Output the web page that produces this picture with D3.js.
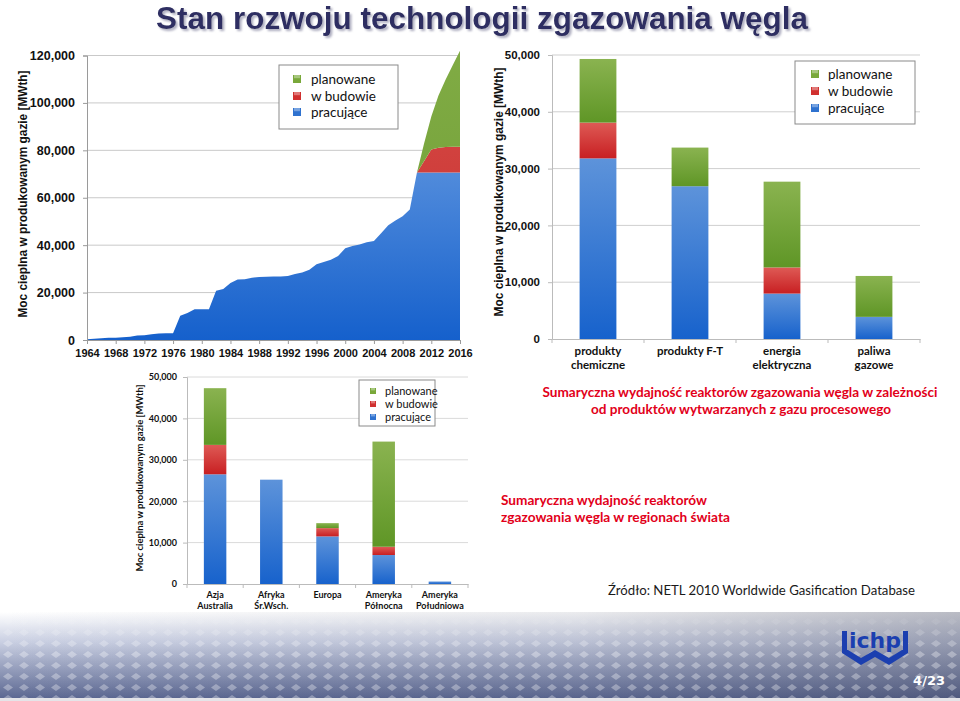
<!DOCTYPE html>
<html><head><meta charset="utf-8">
<script src="https://cdn.jsdelivr.net/npm/d3@7"></script>
<style>body{margin:0;background:#fff}svg{display:block}</style>
</head><body><svg id="c" width="960" height="701"></svg>
<script>
// ---------- DATA ----------
const seriesNames = ["pracujące", "w budowie", "planowane"];
const legendOrder = ["planowane", "w budowie", "pracujące"];

// Chart 1: cumulative capacity by year
const years = [1964,1965,1966,1967,1968,1969,1970,1971,1972,1973,1974,1975,1976,1977,1978,1979,1980,1981,1982,1983,1984,1985,1986,1987,1988,1989,1990,1991,1992,1993,1994,1995,1996,1997,1998,1999,2000,2001,2002,2003,2004,2005,2006,2007,2008,2009,2010,2011,2012,2013,2014,2015,2016];
const operatingByYear = [300,500,700,900,1000,1200,1400,1900,2000,2400,2700,2800,2800,10200,11400,13000,13000,13000,20800,21500,24000,25500,25600,26300,26600,26700,26800,26800,27000,27800,28500,29600,32000,32900,33900,35400,38700,39700,40300,41200,41800,45000,48400,50400,52200,55000,70700,70700,70700,70700,70700,70700,70700];
const constructionByYear = [0,0,0,0,0,0,0,0,0,0,0,0,0,0,0,0,0,0,0,0,0,0,0,0,0,0,0,0,0,0,0,0,0,0,0,0,0,0,0,0,0,0,0,0,0,0,0,4800,9600,10400,10700,10800,10800];
const plannedByYear = [0,0,0,0,0,0,0,0,0,0,0,0,0,0,0,0,0,0,0,0,0,0,0,0,0,0,0,0,0,0,0,0,0,0,0,0,0,0,0,0,0,0,0,0,0,0,0,7500,14000,22000,28500,34500,40500];
const yearTicks = [1964,1968,1972,1976,1980,1984,1988,1992,1996,2000,2004,2008,2012,2016];
const ticks1 = [0,20000,40000,60000,80000,100000,120000];

// Chart 2: by product
const products = [["produkty","chemiczne"],["produkty F-T"],["energia","elektryczna"],["paliwa","gazowe"]];
const productOperating = [31800, 26900, 8000, 3900];
const productConstruction = [6300, 0, 4600, 0];
const productPlanned = [11200, 6800, 15100, 7200];
const ticks2 = [0,10000,20000,30000,40000,50000];

// Chart 3: by region
const regions = [["Azja","Australia"],["Afryka","Śr.Wsch."],["Europa"],["Ameryka","Północna"],["Ameryka","Południowa"]];
const regionOperating = [26500, 25200, 11500, 7000, 600];
const regionConstruction = [7100, 0, 2000, 2000, 0];
const regionPlanned = [13700, 0, 1200, 25400, 0];
const ticks3 = [0,10000,20000,30000,40000,50000];

const yTitle = "Moc cieplna  w produkowanym gazie [MWth]";
const pageTitle = "Stan rozwoju technologii zgazowania węgla";
const caption1 = ["Sumaryczna wydajność reaktorów zgazowania węgla w zależności","od produktów wytwarzanych z gazu procesowego"];
const caption2 = ["Sumaryczna wydajność reaktorów","zgazowania węgla w regionach świata"];
const sourceText = "Źródło: NETL 2010 Worldwide Gasification Database";
const logoText = "ichp";
const pageNo = "4/23";

// ---------- SETUP ----------
const svg = d3.select("#c");
const defs = svg.append("defs");
const fmt = d3.format(",");
const ARIAL = "'Liberation Sans', Arial, sans-serif";
const CAL = "Lato, 'Open Sans', sans-serif";

function vgrad(id, stops, user, y1, y2) {
  const g = defs.append("linearGradient").attr("id", id).attr("x1",0).attr("x2",0).attr("y1",user?y1:0).attr("y2",user?y2:1);
  if (user) g.attr("gradientUnits","userSpaceOnUse");
  stops.forEach(s => g.append("stop").attr("offset", s[0]).attr("stop-color", s[1]));
}
vgrad("gBlue", [[0,"#5d93da"],[1,"#1762cc"]]);
vgrad("gRed", [[0,"#de5a55"],[1,"#c81f22"]]);
vgrad("gGreen", [[0,"#8ab350"],[1,"#5f9626"]]);
vgrad("aBlue", [[0,"#7aa9e6"],[1,"#1560cc"]], true, 55, 340);
vgrad("aRed", [[0,"#d64a45"],[1,"#c73030"]], true, 55, 340);
vgrad("aGreen", [[0,"#80ab44"],[1,"#6f9e35"]], true, 55, 340);
const barFill = {"pracujące":"url(#gBlue)","w budowie":"url(#gRed)","planowane":"url(#gGreen)"};
const areaFill = {"pracujące":"url(#aBlue)","w budowie":"url(#aRed)","planowane":"url(#aGreen)"};
const legendCol = {"planowane":"#79a83a","w budowie":"#d0302f","pracujące":"#2f72cf"};

// title shadow filter
const f = defs.append("filter").attr("id","sh").attr("x","-5%").attr("y","-20%").attr("width","110%").attr("height","150%");
f.append("feDropShadow").attr("dx",2).attr("dy",2).attr("stdDeviation",0.8).attr("flood-color","#9a9ab0").attr("flood-opacity",0.8);

// bottom band
vgrad("band", [[0,"#ffffff"],[0.35,"#c9cfe2"],[1,"#5c6892"]]);
const hb = defs.append("linearGradient").attr("id","bandH").attr("x1",0).attr("x2",1).attr("y1",0).attr("y2",0);
hb.append("stop").attr("offset",0).attr("stop-color","#3a3f58").attr("stop-opacity",0);
hb.append("stop").attr("offset",0.6).attr("stop-color","#3a3f58").attr("stop-opacity",0.1);
hb.append("stop").attr("offset",1).attr("stop-color","#3a3f58").attr("stop-opacity",0.35);
const pat = defs.append("pattern").attr("id","dia").attr("patternUnits","userSpaceOnUse").attr("width",16).attr("height",11);
pat.append("path").attr("d","M3,5.5 L8,2 L13,5.5 L8,9 Z").attr("fill","#ffffff").attr("opacity",0.32);
const fadeMask = defs.append("linearGradient").attr("id","fm").attr("x1",0).attr("x2",0).attr("y1",0).attr("y2",1);
fadeMask.append("stop").attr("offset",0).attr("stop-color","#000");
fadeMask.append("stop").attr("offset",0.45).attr("stop-color","#fff");
fadeMask.append("stop").attr("offset",1).attr("stop-color","#fff");
defs.append("mask").attr("id","mk").append("rect").attr("x",0).attr("y",612).attr("width",960).attr("height",86).attr("fill","url(#fm)");

svg.append("rect").attr("width",960).attr("height",701).attr("fill","#fff");
svg.append("rect").attr("x",0).attr("y",612).attr("width",960).attr("height",86).attr("fill","url(#band)");
svg.append("rect").attr("x",0).attr("y",612).attr("width",960).attr("height",86).attr("fill","url(#bandH)");
svg.append("rect").attr("x",0).attr("y",612).attr("width",960).attr("height",86).attr("fill","url(#dia)").attr("mask","url(#mk)");
svg.append("rect").attr("x",0).attr("y",698).attr("width",960).attr("height",3).attr("fill","#e4e4e8");

// title
svg.append("text").attr("x",482).attr("y",29).attr("text-anchor","middle")
  .attr("font-family","'Liberation Sans Narrow', 'Liberation Sans', Arial, sans-serif").attr("font-weight","bold")
  .attr("font-size",31).attr("fill","#2e2f62").attr("filter","url(#sh)")
  .attr("textLength",652).attr("lengthAdjust","spacingAndGlyphs").text(pageTitle);

function rotTitle(x, cy, len, size, weight, family) {
  svg.append("text").attr("transform",`translate(${x},${cy}) rotate(-90)`).attr("text-anchor","middle")
    .attr("font-family",family).attr("font-weight",weight).attr("font-size",size).attr("fill","#111")
    .attr("textLength",len).attr("lengthAdjust","spacingAndGlyphs").attr("dy","0.35em").text(yTitle);
}

function legend(x, y, w, h, mx, tx, rows, ms, fs, weight) {
  const g = svg.append("g");
  g.append("rect").attr("x",x).attr("y",y).attr("width",w).attr("height",h).attr("fill","#fff").attr("stroke","#8a8a8a").attr("stroke-width",1);
  legendOrder.forEach((n,i) => {
    g.append("rect").attr("x",mx).attr("y",rows[i]-ms/2).attr("width",ms).attr("height",ms).attr("fill",legendCol[n]);
    g.append("rect").attr("x",mx+1).attr("y",rows[i]-ms/2).attr("width",ms-2).attr("height",ms*0.4).attr("fill","#fff").attr("opacity",0.35);
    g.append("text").attr("x",tx).attr("y",rows[i]).attr("dy","0.35em").attr("font-family",CAL).attr("font-weight",weight)
      .attr("font-size",fs).attr("fill","#111").text(n);
  });
}

// ---------- CHART 1 ----------
{
  const x = d3.scaleLinear().domain([1964,2016]).range([87,460]);
  const y = d3.scaleLinear().domain([0,120000]).range([340,55.5]);
  const g = svg.append("g");
  g.selectAll("line.grid").data(ticks1.slice(1)).join("line").attr("x1",87).attr("x2",460)
    .attr("y1",d=>y(d)).attr("y2",d=>y(d)).attr("stroke","#c9c9c9").attr("stroke-width",1);
  const rows = years.map((yr,i)=>({year:yr,"pracujące":operatingByYear[i],"w budowie":constructionByYear[i],"planowane":plannedByYear[i]}));
  const stack = d3.stack().keys(seriesNames)(rows);
  const area = d3.area().x(d=>x(d.data.year)).y0(d=>y(d[0])).y1(d=>y(d[1]));
  g.selectAll("path.a").data(stack).join("path").attr("d",area).attr("fill",d=>areaFill[d.key]);
  const ya = g.append("g").attr("transform","translate(87,0)").call(d3.axisLeft(y).tickValues(ticks1).tickFormat(fmt).tickSize(4).tickPadding(8));
  ya.select(".domain").attr("stroke","#9a9a9a");
  ya.selectAll(".tick line").attr("stroke","#9a9a9a");
  ya.selectAll("text").attr("font-family",ARIAL).attr("font-weight","bold").attr("font-size",12.5).attr("fill","#111");
  const xa = g.append("g").attr("transform","translate(0,340)").call(d3.axisBottom(x).tickValues(yearTicks).tickFormat(d3.format("d")).tickSize(4).tickPadding(5));
  xa.select(".domain").attr("stroke","#9a9a9a");
  xa.selectAll(".tick line").attr("stroke","#9a9a9a");
  xa.selectAll("text").attr("font-family",ARIAL).attr("font-weight","bold").attr("font-size",11).attr("fill","#111");
  rotTitle(22, 194, 247, 13.5, "bold", ARIAL);
  legend(279, 65, 119, 64, 293, 311, [79,96,112], 8, 13.5, "normal");
}

// ---------- stacked bar helper ----------
function barChart(cats, op, co, pl, ticks, x0, x1, yb, yt, lblSize, lblX, gridCol, labelY, labelGap, catSize) {
  const x = d3.scaleBand().domain(cats.map(c=>c.join(" "))).range([x0,x1]).paddingInner(0.6).paddingOuter(0.3);
  const y = d3.scaleLinear().domain([0, ticks[ticks.length-1]]).range([yb,yt]);
  const g = svg.append("g");
  g.selectAll("line.grid").data(ticks.slice(1)).join("line").attr("x1",x0).attr("x2",x1)
    .attr("y1",d=>y(d)).attr("y2",d=>y(d)).attr("stroke",gridCol).attr("stroke-width",1);
  const rows = cats.map((c,i)=>({cat:c.join(" "),"pracujące":op[i],"w budowie":co[i],"planowane":pl[i]}));
  const stack = d3.stack().keys(seriesNames)(rows);
  g.selectAll("g.s").data(stack).join("g").attr("fill",d=>barFill[d.key])
    .selectAll("rect").data(d=>d.filter(v=>v[1]-v[0]>0)).join("rect")
    .attr("x",d=>x(d.data.cat)).attr("width",x.bandwidth())
    .attr("y",d=>y(d[1])).attr("height",d=>y(d[0])-y(d[1]));
  const ya = g.append("g").attr("transform",`translate(${x0},0)`).call(d3.axisLeft(y).tickValues(ticks).tickFormat(fmt).tickSize(4).tickPadding(lblX));
  ya.select(".domain").attr("stroke","#bbb");
  ya.selectAll(".tick line").attr("stroke","#bbb");
  ya.selectAll("text").attr("font-family", lblSize>10?ARIAL:CAL).attr("font-weight","bold").attr("font-size",lblSize).attr("fill","#111");
  const xa = g.append("g").attr("transform",`translate(0,${yb})`).call(d3.axisBottom(x).tickSize(0).tickFormat(""));
  xa.select(".domain").attr("stroke","#bbb");
  const bounds = d3.range(cats.length+1).map(i=> x0 + (x1-x0)*i/cats.length);
  g.selectAll("line.bt").data(bounds).join("line").attr("x1",d=>d).attr("x2",d=>d).attr("y1",yb).attr("y2",yb+4).attr("stroke","#bbb");
  cats.forEach(c => {
    c.forEach((line,j)=> g.append("text").attr("text-anchor","middle").attr("font-family",CAL).attr("font-weight","bold")
      .attr("font-size",catSize).attr("fill","#111")
      .attr("x", x(c.join(" ")) + x.bandwidth()/2).attr("y", labelY + j*labelGap).text(line));
  });
}

// ---------- CHART 2 ----------
barChart(products, productOperating, productConstruction, productPlanned, ticks2, 552, 920, 339, 55, 11.5, 8, "#cfcfcf", 355, 14, 11.5);
rotTitle(498, 192, 249, 13.5, "bold", ARIAL);
legend(795, 61, 120, 63, 811, 828, [74,91,108], 8, 13.5, "normal");

// ---------- CHART 3 ----------
barChart(regions, regionOperating, regionConstruction, regionPlanned, ticks3, 187, 468, 584, 377, 9, 6, "#dadada", 598, 10.5, 9);
rotTitle(140, 478, 187, 9.5, "bold", CAL);
legend(359, 380, 76, 46, 370, 385, [391,404,417], 6, 11, "normal");

// ---------- captions ----------
const red = "#e2001a";
svg.append("text").attr("x",740).attr("y",397).attr("text-anchor","middle").attr("font-family",CAL).attr("font-weight","bold").attr("font-size",13.5).attr("fill",red).attr("textLength",395).attr("lengthAdjust","spacingAndGlyphs").text(caption1[0]);
svg.append("text").attr("x",741).attr("y",414).attr("text-anchor","middle").attr("font-family",CAL).attr("font-weight","bold").attr("font-size",13.5).attr("fill",red).attr("textLength",300).attr("lengthAdjust","spacingAndGlyphs").text(caption1[1]);
svg.append("text").attr("x",501).attr("y",505).attr("font-family",CAL).attr("font-weight","bold").attr("font-size",13.5).attr("fill",red).attr("textLength",206).attr("lengthAdjust","spacingAndGlyphs").text(caption2[0]);
svg.append("text").attr("x",501).attr("y",522).attr("font-family",CAL).attr("font-weight","bold").attr("font-size",13.5).attr("fill",red).attr("textLength",229).attr("lengthAdjust","spacingAndGlyphs").text(caption2[1]);
svg.append("text").attr("x",608).attr("y",595).attr("font-family",CAL).attr("font-size",14).attr("fill","#1a1a1a").attr("textLength",307).attr("lengthAdjust","spacingAndGlyphs").text(sourceText);

// ---------- logo & page number ----------
const lg = svg.append("g").attr("fill","#1b3fb0");
lg.append("rect").attr("x",842).attr("y",631).attr("width",5).attr("height",19);
lg.append("rect").attr("x",903).attr("y",631).attr("width",5).attr("height",19);
lg.append("text").attr("x",875).attr("y",648).attr("text-anchor","middle").attr("font-family","'DejaVu Sans', sans-serif")
  .attr("font-weight","bold").attr("font-size",21).attr("textLength",52).attr("lengthAdjust","spacingAndGlyphs").text(logoText);
lg.append("path").attr("d","M842,650 h6 l13,8 l14,-8 l14,8 l13,-8 h6 v3 l-19,12 l-14,-8 l-14,8 l-19,-12 z");
svg.append("text").attr("x",945).attr("y",685).attr("text-anchor","end").attr("font-family","'DejaVu Sans', sans-serif").attr("font-weight","bold").attr("font-size",13).attr("fill","#fff").text(pageNo);
</script></body></html>
